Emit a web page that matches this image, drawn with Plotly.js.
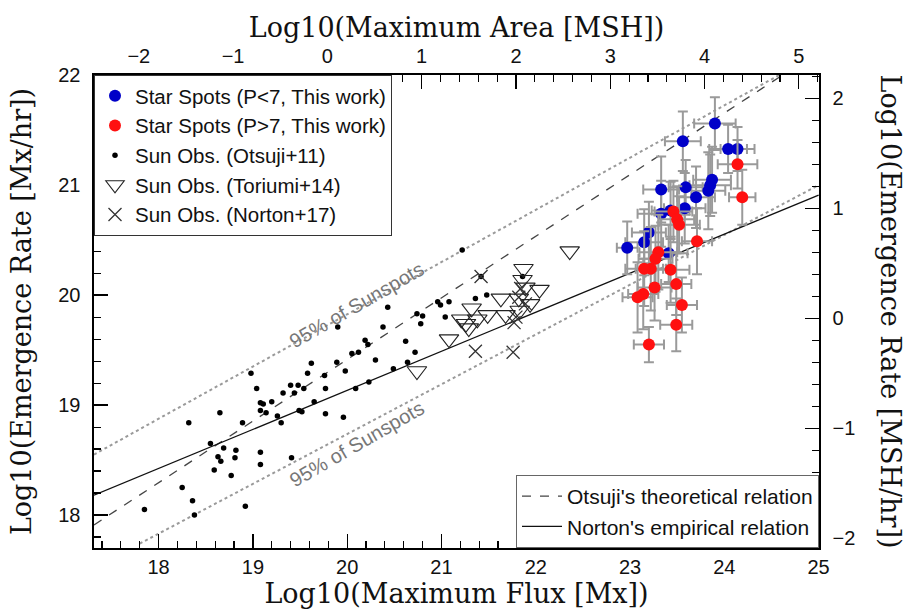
<!DOCTYPE html>
<html>
<head>
<meta charset="utf-8">
<script src="https://cdn.plot.ly/plotly-3.0.1.min.js"></script>
<style>html,body{margin:0;padding:0;background:#fff;}#chart{width:906px;height:612px;}</style>
</head>
<body>
<div id="chart"></div>
<script>
// ---- Sun observations: Otsuji+11 ----
const otsujiFlux = [17.85,18.25,18.36,18.38,18.32,18.55,18.63,18.66,18.59,18.69,18.65,18.82,18.81,18.77,18.92,18.89,18.98,19.04,19.08,19.11,19.08,19.14,19.20,19.26,19.30,19.32,19.40,19.44,19.08,19.08,19.41,19.48,19.54,19.58,19.62,19.49,19.52,19.77,19.76,19.65,19.77,19.96,19.89,19.90,19.98,20.05,20.12,20.19,20.22,20.09,20.23,20.30,20.38,20.43,20.49,20.62,20.72,20.74,20.80,20.78,20.96,20.99,21.08,21.04,21.22,21.36,21.48,21.42,21.86,20.64];
const otsujiRate = [18.05,18.25,18.13,18.00,18.84,18.65,18.53,18.49,18.41,18.61,18.93,18.59,18.52,18.36,18.08,18.84,19.29,19.15,19.02,19.01,18.95,18.93,19.03,18.90,18.84,19.11,19.18,19.11,18.57,18.46,18.52,19.18,19.15,19.29,19.38,18.95,18.94,19.15,19.27,19.03,18.92,18.89,19.39,19.71,19.31,19.47,19.48,19.59,19.55,19.15,19.21,19.41,19.71,19.89,19.33,19.58,19.48,19.83,19.81,19.74,19.94,19.91,19.94,19.80,20.41,19.97,20.00,20.17,20.17,19.39];

// ---- Sun observations: Toriumi+14 ----
const toriumiFlux = [20.74,21.08,21.21,21.26,21.29,21.32,21.38,21.49,21.63,21.68,21.87,21.86,21.89,22.04,21.82,21.94,21.83,22.36];
const toriumiRate = [19.31,19.60,19.78,19.74,19.70,19.88,19.78,19.82,19.97,19.82,20.24,20.14,20.07,20.05,19.97,19.92,19.86,20.40];

// ---- Sun observations: Norton+17 ----
const nortonFlux = [21.42,21.36,21.76,21.79,21.77,21.89,21.84,21.82];
const nortonRate = [20.17,19.49,19.48,19.80,19.75,19.92,20.06,19.98];

// ---- Star spots, P<7 ----
const blueFlux = [23.90,23.56,24.04,24.14,23.87,23.85,23.83,23.33,23.59,23.70,23.33,23.43,23.58,23.20,23.15,22.97,23.41];
const blueRate = [21.56,21.40,21.33,21.33,21.05,21.00,20.95,20.96,20.98,20.89,20.74,20.77,20.79,20.57,20.48,20.43,20.38];
const blueFluxErr = [0.22,0.19,0.20,0.18,0.20,0.22,0.18,0.19,0.18,0.20,0.25,0.20,0.22,0.18,0.20,0.11,0.20];
const blueRateErr = [0.24,0.27,0.22,0.20,0.30,0.28,0.35,0.30,0.25,0.28,0.30,0.26,0.32,0.28,0.30,0.24,0.26];

// ---- Star spots, P>7 ----
const redFlux = [24.14,24.19,23.46,23.50,23.52,23.71,23.30,23.27,23.22,23.15,23.43,23.49,23.26,23.14,23.08,23.55,23.49,23.20];
const redRate = [21.19,20.89,20.76,20.69,20.64,20.49,20.39,20.33,20.24,20.24,20.23,20.10,20.07,20.01,19.98,19.91,19.73,19.55];
const redFluxErr = [0.21,0.14,0.20,0.18,0.22,0.16,0.20,0.18,0.16,0.20,0.20,0.16,0.18,0.16,0.16,0.16,0.17,0.16];
const redRateErr = [0.22,0.25,0.28,0.30,0.26,0.30,0.34,0.30,0.38,0.34,0.30,0.28,0.30,0.32,0.32,0.25,0.24,0.16];

// ---- Relations (end points) ----
const otsujiLineX = [17.315, 24.65];
const otsujiLineY = [17.91, 22.02];
const nortonLineX = [17.315, 25.0];
const nortonLineY = [18.18, 20.91];
const band95UpperX = [17.315, 24.62];
const band95UpperY = [18.55, 22.02];
const band95LowerX = [17.80, 25.0];
const band95LowerY = [17.74, 21.00];

// ---- Axis ranges / offsets ----
const fluxRange = [17.315, 25.004];
const rateRange = [17.70, 22.002];
const mshOffset = 19.79;

const sans = 'Liberation Sans, Arial, Helvetica, sans-serif';
const serif = 'DejaVu Serif, serif';

const traces = [
  {x: band95UpperX, y: band95UpperY, mode: 'lines', line: {color: '#9a9a9a', width: 2, dash: 'dot'}, showlegend: false, hoverinfo: 'skip'},
  {x: band95LowerX, y: band95LowerY, mode: 'lines', line: {color: '#9a9a9a', width: 2, dash: 'dot'}, showlegend: false, hoverinfo: 'skip'},
  {x: otsujiLineX, y: otsujiLineY, mode: 'lines', name: "Otsuji's theoretical relation", legend: 'legend2', line: {color: '#444', width: 1.3, dash: 'dash'}},
  {x: nortonLineX, y: nortonLineY, mode: 'lines', name: "Norton's empirical relation", legend: 'legend2', line: {color: '#111', width: 1.3}},
  {x: blueFlux, y: blueRate, mode: 'markers', name: 'Star Spots (P<7, This work)',
   marker: {color: '#0000c8', size: 12},
   error_x: {type: 'data', array: blueFluxErr, color: '#9a9a9a', thickness: 2, width: 5},
   error_y: {type: 'data', array: blueRateErr, color: '#9a9a9a', thickness: 2, width: 5}},
  {x: redFlux, y: redRate, mode: 'markers', name: 'Star Spots (P>7, This work)',
   marker: {color: '#ff1010', size: 12},
   error_x: {type: 'data', array: redFluxErr, color: '#9a9a9a', thickness: 2, width: 5},
   error_y: {type: 'data', array: redRateErr, color: '#9a9a9a', thickness: 2, width: 5}},
  {x: otsujiFlux, y: otsujiRate, mode: 'markers', name: 'Sun Obs. (Otsuji+11)',
   marker: {color: '#000', size: 5.5}},
  {x: toriumiFlux, y: toriumiRate, mode: 'markers', name: 'Sun Obs. (Toriumi+14)',
   marker: {symbol: 'triangle-down-open', color: '#222', size: 17, line: {width: 1.1}}},
  {x: nortonFlux, y: nortonRate, mode: 'markers', name: 'Sun Obs. (Norton+17)',
   marker: {symbol: 'x-thin-open', color: '#333', size: 13, line: {width: 1.3, color: '#333'}}},
  {x: [], y: [], xaxis: 'x2', yaxis: 'y2', showlegend: false, hoverinfo: 'skip', mode: 'markers'}
];

const axisCommon = {
  showgrid: false, zeroline: false, showline: true, linecolor: '#000', linewidth: 1.6,
  ticks: 'inside', ticklen: 14, tickwidth: 1.3, tickcolor: '#000', dtick: 1,
  minor: {dtick: 0.2, ticks: 'inside', ticklen: 7, tickwidth: 1.1, tickcolor: '#000'},
  tickfont: {family: sans, size: 20, color: '#111'}, autorange: false
};

const layout = {
  width: 906, height: 612,
  margin: {l: 94, r: 87, t: 75, b: 64},
  paper_bgcolor: '#fff', plot_bgcolor: '#fff',
  showlegend: true,
  xaxis: Object.assign({}, axisCommon, {
    range: fluxRange, tick0: 0, ticklabelstandoff: 0,
    title: {text: 'Log10(Maximum Flux [Mx])', font: {family: serif, size: 27, color: '#111'}, standoff: 2}
  }),
  xaxis2: Object.assign({}, axisCommon, {
    range: [fluxRange[0] - mshOffset, fluxRange[1] - mshOffset], tick0: 0,
    overlaying: 'x', side: 'top', anchor: 'y', ticklabelstandoff: 2,
    title: {text: 'Log10(Maximum Area [MSH])', font: {family: serif, size: 27, color: '#111'}, standoff: 0}
  }),
  yaxis: Object.assign({}, axisCommon, {
    range: rateRange, tick0: 0, ticklabelstandoff: 8,
    title: {text: 'Log10(Emergence Rate [Mx/hr])', font: {family: serif, size: 27, color: '#111'}, standoff: 19}
  }),
  yaxis2: Object.assign({}, axisCommon, {
    range: [rateRange[0] - mshOffset, rateRange[1] - mshOffset], tick0: 0,
    overlaying: 'y', side: 'right', anchor: 'x', ticklabelstandoff: 8
  }),
  legend: {
    x: 0, y: 1, xanchor: 'left', yanchor: 'top', xref: 'paper', yref: 'paper',
    bgcolor: '#fff', bordercolor: '#333', borderwidth: 1,
    font: {family: sans, size: 20.5, color: '#111'}, itemwidth: 30, tracegroupgap: 0
  },
  legend2: {
    x: 1, y: 0, xanchor: 'right', yanchor: 'bottom', xref: 'paper', yref: 'paper',
    bgcolor: '#fff', bordercolor: '#666', borderwidth: 1,
    font: {family: sans, size: 21, color: '#111'}, itemwidth: 40
  },
  annotations: [
    {text: '95% of Sunspots', x: 20.10, y: 19.91, xref: 'x', yref: 'y', showarrow: false, textangle: -30,
     font: {family: sans, size: 20, color: '#777'}},
    {text: '95% of Sunspots', x: 20.10, y: 18.65, xref: 'x', yref: 'y', showarrow: false, textangle: -30,
     font: {family: sans, size: 20, color: '#777'}},
    {text: 'Log10(Emergence Rate [MSH/hr])', xref: 'paper', yref: 'paper', x: 1.098, y: 0.5,
     xanchor: 'center', yanchor: 'middle', showarrow: false, textangle: 90,
     font: {family: serif, size: 27, color: '#111'}}
  ]
};

Plotly.newPlot('chart', traces, layout, {displayModeBar: false, staticPlot: true});
</script>
</body>
</html>
